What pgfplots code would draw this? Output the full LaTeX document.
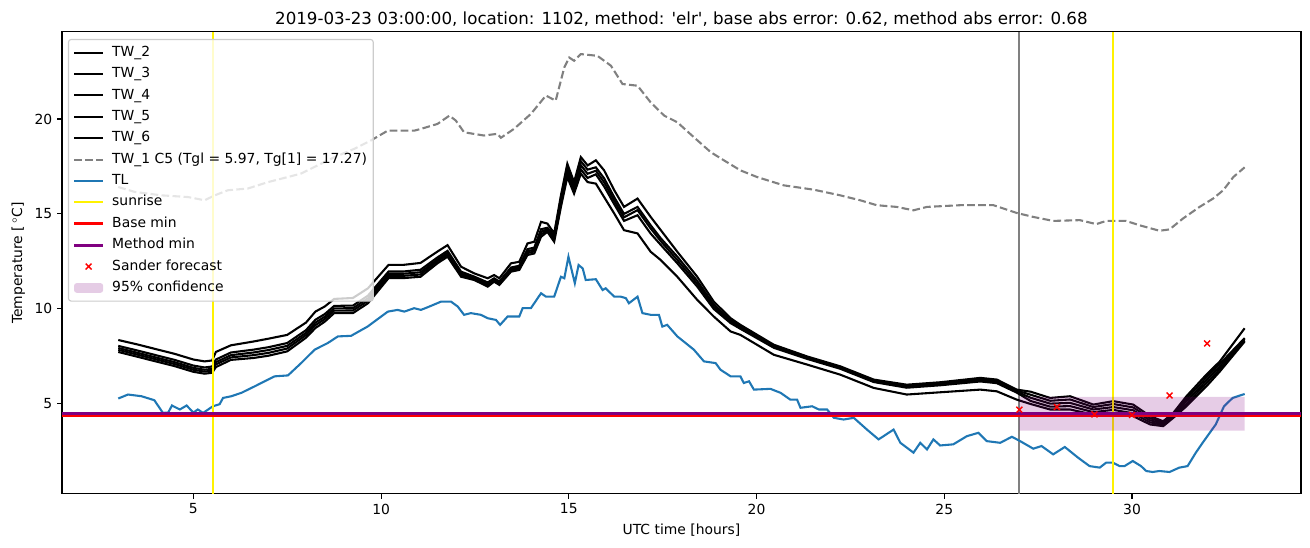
\documentclass[border=0pt]{standalone}
\usepackage{fontspec}
\setmainfont{DejaVu Sans}
\newfontfamily\djv{DejaVu Sans}
\usepackage{pgfplots}
\pgfplotsset{compat=1.18}
\usepackage{pgfplotstable}

\definecolor{tlblue}{HTML}{1F77B4}
\definecolor{mplgray}{HTML}{808080}
\definecolor{mplpurple}{HTML}{800080}
\definecolor{legframe}{HTML}{CCCCCC}

\pgfplotsset{
  linelegend/.style={legend image code/.code={\draw[mark repeat=2,mark phase=2,##1] plot coordinates {(0pt,0pt) (10.5pt,0pt) (21pt,0pt)};}},
  rectlegend/.style={legend image code/.code={\fill[##1] (0pt,-3.5pt) rectangle (21pt,3.5pt);}},
}

\pgfplotstableread{
x     T     m1    m2    m3    B
3.00  8.33  8.02  7.91  7.81  7.70
3.50  8.10  7.78  7.66  7.56  7.45
4.00  7.85  7.53  7.41  7.31  7.20
4.50  7.60  7.28  7.16  7.06  6.95
5.00  7.30  6.98  6.86  6.76  6.65
5.30  7.20  6.88  6.76  6.66  6.55
5.50  7.25  6.93  6.81  6.71  6.60
5.60  7.70  7.30  7.16  7.04  6.90
6.00  8.05  7.67  7.53  7.41  7.28
6.60  8.25  7.82  7.67  7.53  7.38
7.00  8.40  7.95  7.80  7.65  7.50
7.50  8.60  8.17  8.02  7.88  7.73
8.00  9.25  8.85  8.71  8.59  8.45
8.25  9.83  9.40  9.25  9.11  8.96
8.50  10.10 9.70  9.56  9.44  9.30
8.75  10.50 10.13 10.00 9.88  9.75
9.25  10.55 10.15 10.01 9.89  9.75
9.65  11.06 10.67 10.53 10.40 10.27
10.20 12.30 11.95 11.83 11.72 11.60
10.60 12.30 11.95 11.83 11.72 11.60
11.05 12.40 12.04 11.91 11.79 11.67
11.50 13.00 12.69 12.58 12.49 12.38
11.77 13.34 13.04 12.93 12.83 12.73
12.13 12.20 11.94 11.84 11.76 11.67
12.48 11.85 11.68 11.62 11.56 11.50
12.84 11.59 11.37 11.30 11.22 11.15
13.01 11.76 11.59 11.53 11.47 11.41
13.15 11.59 11.42 11.36 11.30 11.24
13.46 12.38 12.16 12.09 12.01 11.94
13.68 12.46 12.25 12.17 12.10 12.03
13.90 13.43 13.13 13.02 12.92 12.82
14.08 13.52 13.21 13.10 13.01 12.90
14.26 14.57 14.18 14.04 13.91 13.78
14.43 14.48 14.26 14.19 14.11 14.04
14.61 13.96 13.85 13.74 13.63 13.52
14.79 15.97 15.82 15.67 15.51 15.36
14.96 17.64 17.47 17.29 17.12 16.94
15.14 16.67 16.52 16.37 16.21 16.06
15.32 17.99 17.77 17.56 17.34 17.12
15.50 17.55 17.33 17.11 16.89 16.67
15.72 17.82 17.45 17.27 17.08 16.59
15.94 17.29 16.87 16.66 16.44 15.88
16.21 16.24 15.87 15.69 15.50 15.01
16.47 15.36 14.99 14.81 14.62 14.13
16.83 15.80 15.36 15.19 14.92 13.96
17.18 14.83 14.39 14.22 13.95 12.99
17.45 14.13 13.70 13.55 13.35 12.55
17.89 12.99 12.73 12.55 12.38 11.67
18.42 11.67 11.45 11.30 11.15 10.45
18.86 10.36 10.20 10.08 9.97  9.57
19.31 9.48  9.38  9.30  9.22  8.78
19.57 9.13  9.05  8.98  8.92  8.60
20.46 8.08  8.03  7.97  7.92  7.55
21.35 7.46  7.42  7.37  7.33  7.03
22.23 6.94  6.90  6.85  6.81  6.50
23.12 6.24  6.20  6.15  6.11  5.80
24.00 5.97  5.92  5.87  5.81  5.45
24.90 6.10  6.05  5.99  5.94  5.57
25.96 6.33  6.27  6.21  6.14  5.71
26.40 6.24  6.18  6.12  6.05  5.62
26.93 5.71  5.66  5.60  5.55  5.18
27.30 5.60  5.44  5.28  5.11  4.95
27.82 5.27  5.12  4.97  4.81  4.66
28.35 5.36  5.19  5.01  4.84  4.66
28.97 4.92  4.79  4.66  4.52  4.39
29.50 5.10  4.95  4.79  4.64  4.48
30.03 4.92  4.77  4.62  4.46  4.31
30.48 4.31  4.20  4.09  3.98  3.87
30.83 4.04  3.98  3.91  3.85  3.78
31.10 4.48  4.42  4.35  4.29  4.22
31.45 5.36  5.23  5.10  4.96  4.83
31.98 6.50  6.35  6.19  6.04  5.88
32.34 7.20  7.07  6.94  6.80  6.67
33.00 8.95  8.43  8.38  8.30  8.25
}\tw

\pgfplotstableread{
x y
3.00 16.41
3.44 16.15
4.15 15.97
4.86 15.88
5.30 15.71
5.57 15.97
5.92 16.24
6.45 16.33
6.99 16.67
7.52 16.94
7.87 17.12
8.40 17.64
8.76 17.99
9.29 18.43
9.73 18.87
10.18 19.39
10.89 19.39
11.06 19.48
11.50 19.74
11.82 20.18
11.99 19.92
12.21 19.30
12.74 19.13
13.10 19.22
13.19 19.01
13.54 19.48
13.99 20.27
14.39 21.24
14.65 20.97
14.88 22.73
15.01 23.25
15.14 23.08
15.32 23.43
15.76 23.34
16.12 22.82
16.43 21.85
16.83 21.76
17.18 20.88
17.54 20.18
17.89 19.83
18.33 19.04
18.78 18.25
19.13 17.82
19.57 17.29
20.01 16.94
20.72 16.50
21.52 16.27
22.23 15.97
22.76 15.71
23.20 15.45
23.73 15.36
24.18 15.18
24.54 15.36
25.43 15.45
26.31 15.45
26.93 15.04
27.37 14.83
27.90 14.62
28.61 14.66
29.05 14.45
29.31 14.62
29.84 14.62
30.20 14.39
30.73 14.10
31.00 14.17
31.36 14.75
31.80 15.36
32.16 15.80
32.43 16.24
32.70 16.94
33.00 17.45
}\twone

\pgfplotstableread{
x y
3.00 5.24
3.26 5.45
3.62 5.36
3.96 5.15
4.19 4.48
4.33 4.50
4.43 4.87
4.64 4.66
4.82 4.87
5.00 4.50
5.12 4.66
5.26 4.48
5.52 4.83
5.70 4.94
5.79 5.27
6.01 5.36
6.28 5.54
6.63 5.88
7.16 6.41
7.52 6.46
7.87 7.11
8.23 7.82
8.58 8.17
8.85 8.52
9.20 8.55
9.64 9.04
10.18 9.83
10.44 9.92
10.62 9.83
10.88 10.01
11.06 9.92
11.24 10.06
11.60 10.36
11.86 10.36
12.04 10.10
12.21 9.66
12.39 9.75
12.66 9.66
12.84 9.48
13.06 9.39
13.17 9.13
13.37 9.57
13.68 9.57
13.77 10.01
13.99 10.01
14.26 10.80
14.39 10.62
14.61 10.62
14.79 11.67
14.88 11.59
14.99 12.73
15.16 11.33
15.26 12.29
15.37 12.11
15.45 11.50
15.72 11.54
15.90 10.97
15.98 11.06
16.21 10.62
16.38 10.62
16.52 10.54
16.60 10.27
16.83 10.62
16.96 9.75
17.18 9.66
17.40 9.66
17.49 9.04
17.62 9.13
17.89 8.52
18.33 7.82
18.60 7.20
18.91 7.11
19.04 6.76
19.31 6.41
19.57 6.41
19.66 6.06
19.80 6.15
19.93 5.71
20.37 5.75
20.64 5.54
20.90 5.18
21.08 5.18
21.17 4.75
21.48 4.83
21.66 4.66
21.88 4.66
22.06 4.22
22.32 4.13
22.59 4.22
22.94 3.60
23.25 3.08
23.65 3.60
23.83 2.90
24.18 2.38
24.36 2.90
24.54 2.55
24.71 3.08
24.89 2.76
25.24 2.82
25.60 3.25
25.91 3.43
26.13 2.99
26.49 2.90
26.80 3.22
27.02 2.99
27.37 2.59
27.59 2.73
27.90 2.29
28.21 2.68
28.56 2.12
28.87 1.67
29.14 1.59
29.31 1.85
29.49 1.85
29.67 1.67
29.80 1.67
30.02 1.94
30.24 1.67
30.38 1.41
30.55 1.36
30.73 1.41
31.00 1.36
31.26 1.59
31.48 1.67
31.70 2.38
31.88 2.90
32.23 3.87
32.45 4.83
32.68 5.27
33.00 5.48
}\tl

\begin{document}
\begin{tikzpicture}
\useasboundingbox (-44.6pt,-38.2pt) rectangle (898.5pt,355.6pt);
\begin{axis}[
  at={(0pt,0pt)}, anchor=south west,
  scale only axis, width=892pt, height=332.6pt,
  xmin=1.5, xmax=34.5, ymin=0.2, ymax=24.6,
  xtick={5,10,15,20,25,30}, ytick={5,10,15,20},
  tick align=outside, major tick length=3.5pt,
  every tick/.style={black, line width=0.8pt},
  tick pos=left,
  axis line style={line width=0.8pt},
  /pgf/number format/assume math mode=true,
  tick label style={font=\fontsize{10}{12}\selectfont},
  label style={font=\fontsize{10}{12}\selectfont},
  xlabel={UTC time [hours]},
  ylabel={Temperature [\,$^\circ$C]},
  title={\djv 2019-03-23 03:00:00, location: 1102, method: 'elr', base abs error: 0.62, method abs error: 0.68},
  title style={font=\fontsize{12}{14}\selectfont, yshift=-5.5pt},
  legend cell align=left,
  legend style={at={(0,1)}, xshift=4.3pt, yshift=-5pt, anchor=north west,
    draw=legframe, line width=0.8pt, fill=white, fill opacity=0.8, text opacity=1,
    rounded corners=2pt, font=\fontsize{10}{12}\selectfont,
    row sep=2.4pt, column sep=4pt, inner xsep=3pt, inner ysep=3pt,
    nodes={inner sep=1.5pt, text height=7.6pt, text depth=2.4pt}},
  linelegend,
]
\addplot[mplgray, line width=1.5pt, forget plot] coordinates {(27,0.2) (27,24.6)};
\addplot[black, line width=1.5pt] table[x=x, y=T] {\tw}; \addlegendentry{TW\_2}
\addplot[black, line width=1.5pt] table[x=x, y=m1] {\tw}; \addlegendentry{TW\_3}
\addplot[black, line width=1.5pt] table[x=x, y=m2] {\tw}; \addlegendentry{TW\_4}
\addplot[black, line width=1.5pt] table[x=x, y=m3] {\tw}; \addlegendentry{TW\_5}
\addplot[black, line width=1.5pt] table[x=x, y=B] {\tw}; \addlegendentry{TW\_6}
\addplot[mplgray, line width=1.5pt, dash pattern=on 5.55pt off 2.4pt] table {\twone}; \addlegendentry{TW\_1 C5 (Tgl = 5.97, Tg[1] = 17.27)}
\addplot[tlblue, line width=1.5pt] table {\tl}; \addlegendentry{TL}
\addplot[yellow, line width=1.5pt] coordinates {(5.53,0.2) (5.53,24.6)}; \addlegendentry{sunrise}
\addplot[yellow, line width=1.5pt, forget plot] coordinates {(29.5,0.2) (29.5,24.6)};
\addplot[red, line width=2pt] coordinates {(1.5,4.33) (34.5,4.33)}; \addlegendentry{Base min}
\addplot[mplpurple, line width=2pt] coordinates {(1.5,4.43) (34.5,4.43)}; \addlegendentry{Method min}
\addplot[red, only marks, mark=x, mark size=3pt, mark options={line width=1pt}] coordinates {(27,4.65) (28,4.79) (29,4.40) (30,4.37) (31,5.40) (32,8.15)}; \addlegendentry{Sander forecast}
\addplot[fill=mplpurple, fill opacity=0.2, draw=none, rectlegend]
  coordinates {(27,3.54) (33,3.54) (33,5.32) (27,5.32) (27,3.54)}; \addlegendentry{95\% confidence}
\end{axis}
\end{tikzpicture}
\end{document}
